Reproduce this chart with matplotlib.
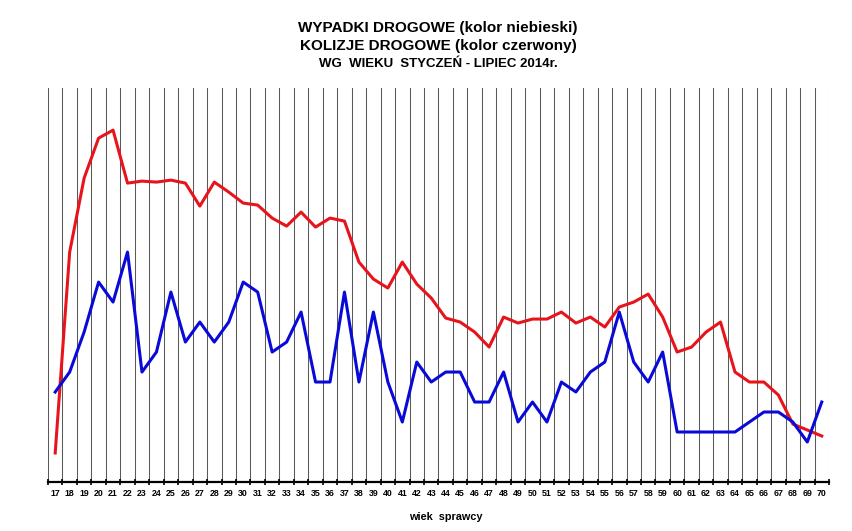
import matplotlib.pyplot as plt
import numpy as np

plt.rcParams['font.family'] = ['Liberation Sans', 'DejaVu Sans']

# wiek sprawcy 17..70
ages = list(range(17, 71))

# wypadki drogowe (niebieski)
wypadki = [9, 11, 15, 20, 18, 23, 11, 13, 19, 14, 16, 14, 16, 20, 19, 13, 14, 17,
           10, 10, 19, 10, 17, 10, 6, 12, 10, 11, 11, 8, 8, 11, 6, 8, 6, 10, 9, 11,
           12, 17, 12, 10, 13, 5, 5, 5, 5, 5, 6, 7, 7, 6, 4, 8]

# kolizje drogowe (czerwony)
kolizje = [2.9, 23, 30.4, 34.4, 35.2, 29.9, 30.1, 30, 30.2, 29.9, 27.6, 30, 29,
           27.9, 27.7, 26.4, 25.6, 27, 25.5, 26.4, 26.1, 22, 20.3, 19.4, 22, 19.8,
           18.4, 16.4, 16, 15, 13.5, 16.5, 15.9, 16.3, 16.3, 17, 15.9, 16.5, 15.5,
           17.5, 18, 18.8, 16.5, 13, 13.5, 15, 16, 11, 10, 10, 8.7, 5.8, 5.2, 4.6]

fig = plt.figure(figsize=(8.52, 5.31), dpi=100)
ax = fig.add_axes([0.0563, 0.0923, 0.9167, 0.7417])

# vertical grid lines between categories
for b in np.arange(16.5, 71, 1):
    ax.axvline(b, color='#5a5a5a', lw=0.75, zorder=1)

ax.plot(ages, kolizje, color='#e8141c', lw=2.2, zorder=3)
ax.plot(ages, wypadki, color='#0a0ad8', lw=2.2, zorder=4)

ax.set_xlim(16.5, 70.5)
ax.set_ylim(0, 39.4)
ax.set_yticks([])
for s in ['left', 'top', 'right']:
    ax.spines[s].set_visible(False)
ax.spines['bottom'].set_linewidth(1.6)

ax.set_xticks(ages)
ax.set_xticklabels([str(a) for a in ages], fontsize=6.3, fontweight='bold')
ax.tick_params(axis='x', which='major', length=0, pad=5)
ax.set_xticks(np.arange(16.5, 71, 1), minor=True)
ax.tick_params(axis='x', which='minor', length=5, width=1.2, direction='inout')

ax.set_xlabel('wiek  sprawcy', fontsize=7.8, fontweight='bold', labelpad=10)
ax.xaxis.set_label_coords(0.509, -0.075)

fig.text(0.514, 0.947, 'WYPADKI DROGOWE (kolor niebieski)', ha='center', va='center',
         fontsize=11, fontweight='bold')
fig.text(0.514, 0.913, 'KOLIZJE DROGOWE (kolor czerwony)', ha='center', va='center',
         fontsize=11, fontweight='bold')
fig.text(0.514, 0.880, 'WG  WIEKU  STYCZEŃ - LIPIEC 2014r.', ha='center', va='center',
         fontsize=9.5, fontweight='bold')

fig.savefig('out.png', dpi=100)
